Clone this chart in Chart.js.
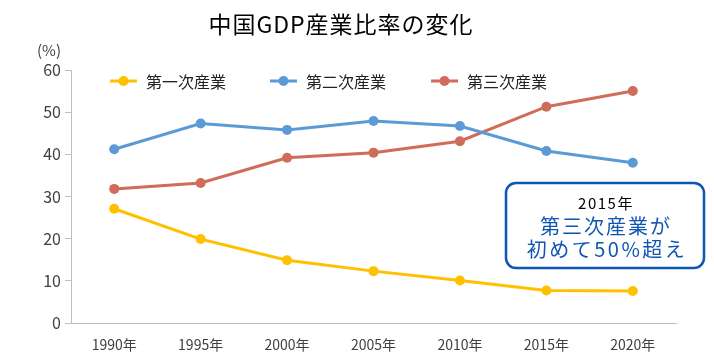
<!DOCTYPE html>
<html>
<head>
<meta charset="utf-8">
<script src="https://cdn.jsdelivr.net/npm/chart.js@4"></script>
<style>
  html, body { margin: 0; padding: 0; background: #fff; }
  #wrap { width: 714px; height: 354px; }
</style>
</head>
<body>
<div id="wrap"><canvas id="gdpChart" width="714" height="354"></canvas></div>
<script>
// data
const years = ['1990年', '1995年', '2000年', '2005年', '2010年', '2015年', '2020年']
const primary = [27.1, 19.9, 14.9, 12.3, 10.1, 7.7, 7.6]
const secondary = [41.2, 47.3, 45.8, 47.9, 46.7, 40.8, 38.0]
const tertiary = [31.8, 33.2, 39.2, 40.4, 43.1, 51.3, 55.0]
const seriesNames = ['第一次産業', '第二次産業', '第三次産業']
const seriesColors = ['#FFC000', '#5B9BD5', '#D16B5A']
const yTicks = [0, 10, 20, 30, 40, 50, 60]

const font = "'Noto Sans CJK JP', 'Noto Sans', sans-serif"

function makeSet(i, data) {
    return {
        label: seriesNames[i],
        data: data,
        borderColor: seriesColors[i],
        backgroundColor: seriesColors[i],
        borderWidth: 3,
        pointRadius: 5,
        pointBorderWidth: 0,
        tension: 0
    }
}

// title, (%) label, legend inside the plot and the callout box
const extras = {
    id: 'extras',
    afterDraw(chart) {
        const ctx = chart.ctx
        ctx.save()
        ctx.fillStyle = '#000'
        ctx.font = "23px " + font
        ctx.letterSpacing = '1px'
        ctx.textAlign = 'center'
        ctx.textBaseline = 'middle'
        ctx.fillText('中国GDP産業比率の変化', 341, 24)

        ctx.letterSpacing = '0px'
        ctx.fillStyle = '#404040'
        ctx.font = "15px " + font
        ctx.fillText('(%)', 49, 50)

        // legend
        const legendX = [110, 270, 431]
        ctx.textAlign = 'left'
        ctx.font = "16px " + font
        chart.data.datasets.forEach((ds, i) => {
            const x = legendX[i]
            const y = 81
            ctx.strokeStyle = ds.borderColor
            ctx.lineWidth = 3
            ctx.beginPath()
            ctx.moveTo(x, y)
            ctx.lineTo(x + 27, y)
            ctx.stroke()
            ctx.fillStyle = ds.borderColor
            ctx.beginPath()
            ctx.arc(x + 13.5, y, 5, 0, Math.PI * 2)
            ctx.fill()
            ctx.fillStyle = '#222'
            ctx.fillText(ds.label, x + 36, y + 1)
        })

        // callout box
        const bx = 506, by = 183, bw = 198, bh = 85, r = 10
        ctx.strokeStyle = '#0F56B3'
        ctx.lineWidth = 2.5
        ctx.beginPath()
        ctx.roundRect(bx, by, bw, bh, r)
        ctx.fillStyle = '#fff'
        ctx.fill()
        ctx.stroke()
        ctx.textAlign = 'center'
        ctx.fillStyle = '#000'
        ctx.font = "15px " + font
        ctx.letterSpacing = '1.5px'
        ctx.fillText('2015年', bx + bw / 2 + 1, 203)
        ctx.fillStyle = '#0F56B3'
        ctx.font = "20px " + font
        ctx.letterSpacing = '2px'
        ctx.fillText('第三次産業が', bx + bw / 2 + 1, 226)
        ctx.letterSpacing = '2.5px'
        ctx.fillText('初めて50%超え', bx + bw / 2 + 2, 249)
        ctx.restore()
    }
}

const ctx = document.getElementById('gdpChart').getContext('2d')
const gdpChart = new Chart(ctx, {
    type: 'line',
    data: {
        labels: years,
        datasets: [
            makeSet(0, primary),
            makeSet(1, secondary),
            makeSet(2, tertiary)
        ]
    },
    options: {
        responsive: false,
        animation: false,
        layout: { padding: { top: 70, right: 38, left: 0, bottom: 0 } },
        plugins: {
            legend: { display: false },
            title: { display: false },
            tooltip: { enabled: false }
        },
        scales: {
            x: {
                offset: true,
                grid: { display: false, drawTicks: false },
                border: { color: '#BFBFBF', width: 1 },
                ticks: { color: '#404040', font: { size: 14, family: font }, padding: 13 },
                afterFit(scale) { scale.height = 31 }
            },
            y: {
                min: 0,
                max: 60,
                afterBuildTicks(scale) { scale.ticks = yTicks.map(v => ({ value: v })) },
                grid: { display: true, drawOnChartArea: false, drawTicks: true, tickLength: 6, color: '#BFBFBF' },
                border: { color: '#BFBFBF', width: 1 },
                ticks: { color: '#404040', font: { size: 16, family: font }, padding: 4 },
                afterFit(scale) { scale.width = 71 }
            }
        }
    },
    plugins: [extras]
})
</script>
</body>
</html>
